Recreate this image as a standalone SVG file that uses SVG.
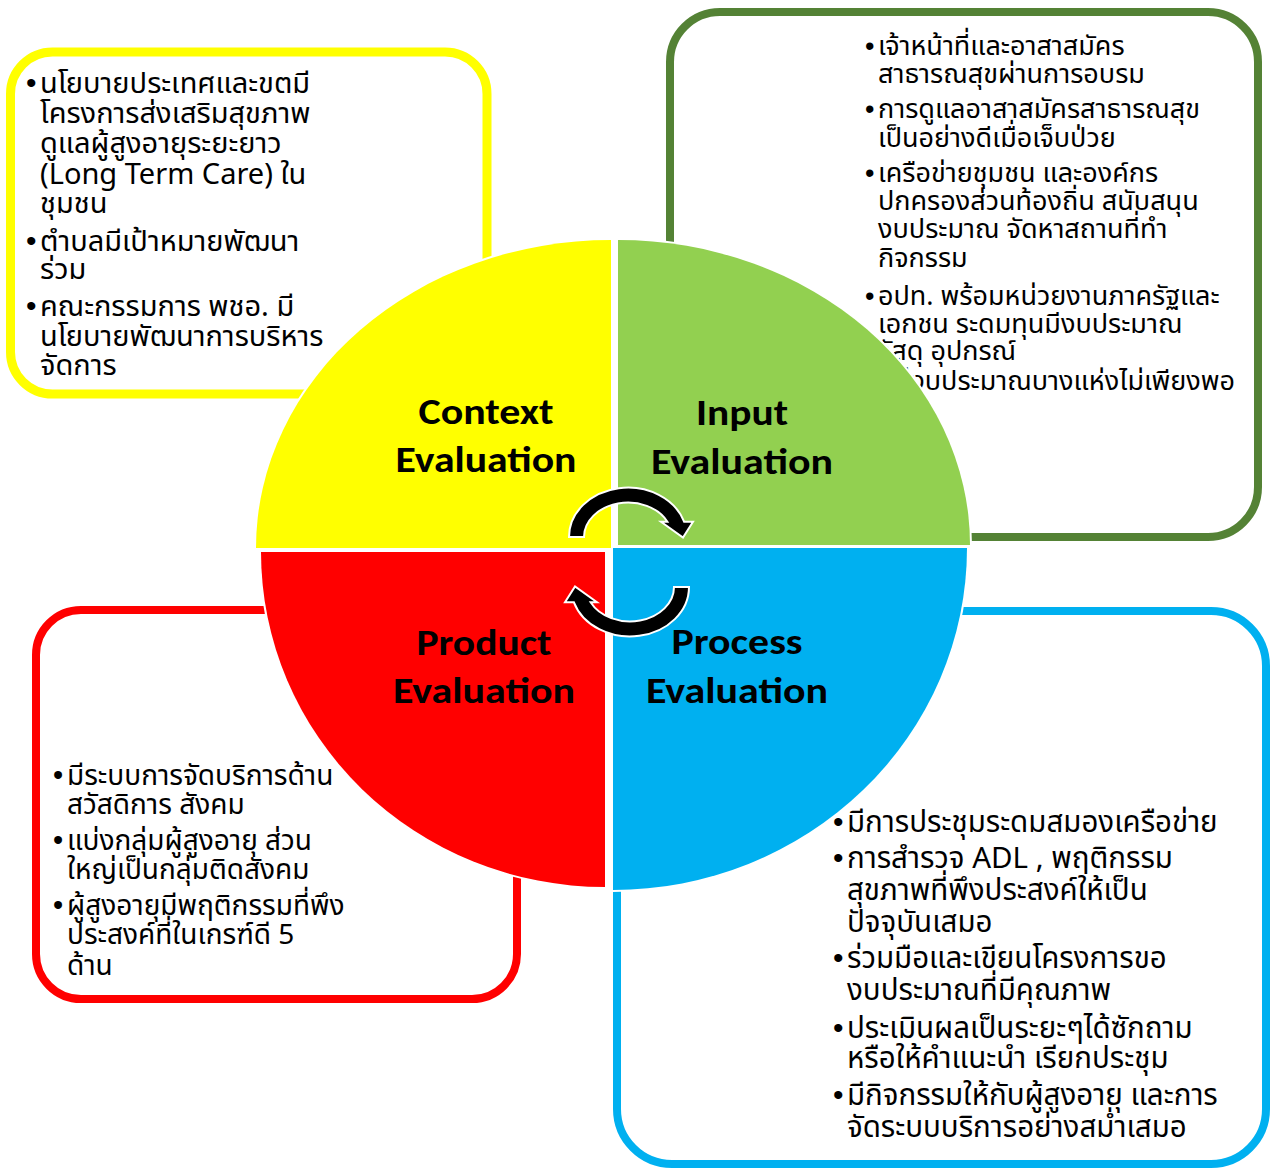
<svg xmlns="http://www.w3.org/2000/svg" width="1271" height="1169" viewBox="0 0 1271 1169">
  <defs>
    <style>
      .box { fill: #FFFFFF; }
      .t { font-family: Tahoma, "Noto Sans Thai", "Noto Sans", "DejaVu Sans", sans-serif; fill: #000000; }
      .ty { font-size: 29px; }
      .tg { font-size: 27px; }
      .tr { font-size: 28px; }
      .tb { font-size: 29.5px; }
      .bul { font-family: "Liberation Sans", Arial, sans-serif; fill: #000000; }
      .quad { stroke: #FFFFFF; stroke-width: 4; paint-order: stroke; }
      .title { font-family: Carlito, Calibri, Lato, "Open Sans", sans-serif; font-weight: bold; font-size: 36px; fill: #000000; text-anchor: middle; }
      .arrow { fill: #000000; stroke: #FFFFFF; stroke-width: 2; stroke-linejoin: miter; }
    </style>
    <!-- curved arrow, centred on its ellipse; tail on the left, head on the right -->
    <path id="curvedArrow" d="M -59 0 A 59 49.5 0 0 1 56.1 -15.3 L 65 -15.3 L 55 0.5 L 33 -15.3 L 39.4 -15.3 A 44 34.5 0 0 0 -44 0 Z"/>
  </defs>

  <rect width="1271" height="1169" fill="#FFFFFF"/>

  <!-- Context box -->
  <g id="context-notes">
    <rect class="box" x="10.5" y="52" width="476.5" height="342" rx="42" stroke="#FFFF00" stroke-width="9"/>
    <g class="t ty">
      <text x="40" y="93">นโยบายประเทศและขตมี</text>
      <text x="40" y="123">โครงการส่งเสริมสุขภาพ</text>
      <text x="40" y="153">ดูแลผู้สูงอายุระยะยาว</text>
      <text x="40" y="184">(Long Term Care) ใน</text>
      <text x="40" y="213">ชุมชน</text>
      <text x="40" y="251">ตำบลมีเป้าหมายพัฒนา</text>
      <text x="40" y="279">ร่วม</text>
      <text x="40" y="316">คณะกรรมการ พชอ. มี</text>
      <text x="40" y="346">นโยบายพัฒนาการบริหาร</text>
      <text x="40" y="375">จัดการ</text>
    </g>
    <g class="bul" font-size="30">
      <text x="26" y="93">•</text>
      <text x="26" y="251">•</text>
      <text x="26" y="316">•</text>
    </g>
  </g>

  <!-- Input box -->
  <g id="input-notes">
    <rect class="box" x="670" y="12" width="588" height="525" rx="50" stroke="#548235" stroke-width="8"/>
    <g class="t tg">
      <text x="878" y="55">เจ้าหน้าที่และอาสาสมัคร</text>
      <text x="878" y="83">สาธารณสุขผ่านการอบรม</text>
      <text x="878" y="118">การดูแลอาสาสมัครสาธารณสุข</text>
      <text x="878" y="147">เป็นอย่างดีเมื่อเจ็บป่วย</text>
      <text x="878" y="182">เครือข่ายชุมชน และองค์กร</text>
      <text x="878" y="210">ปกครองส่วนท้องถิ่น สนับสนุน</text>
      <text x="878" y="238">งบประมาณ จัดหาสถานที่ทำ</text>
      <text x="878" y="267">กิจกรรม</text>
      <text x="878" y="305">อปท. พร้อมหน่วยงานภาครัฐและ</text>
      <text x="878" y="333">เอกชน  ระดมทุนมีงบประมาณ</text>
      <text x="878" y="360">วัสดุ อุปกรณ์</text>
      <text x="878" y="390">แต่งบประมาณบางแห่งไม่เพียงพอ</text>
    </g>
    <g class="bul" font-size="27">
      <text x="865" y="55">•</text>
      <text x="865" y="118">•</text>
      <text x="865" y="182">•</text>
      <text x="865" y="305">•</text>
    </g>
  </g>

  <!-- Product box -->
  <g id="product-notes">
    <rect class="box" x="36" y="610" width="481" height="389" rx="45" stroke="#FF0000" stroke-width="8"/>
    <g class="t tr">
      <text x="67" y="785">มีระบบการจัดบริการด้าน</text>
      <text x="67" y="814">สวัสดิการ สังคม</text>
      <text x="67" y="850">แบ่งกลุ่มผู้สูงอายุ ส่วน</text>
      <text x="67" y="879">ใหญ่เป็นกลุ่มติดสังคม</text>
      <text x="67" y="915">ผู้สูงอายุมีพฤติกรรมที่พึง</text>
      <text x="67" y="944">ประสงค์ที่ในเกรฑ์ดี 5</text>
      <text x="67" y="975">ด้าน</text>
    </g>
    <g class="bul" font-size="29">
      <text x="53" y="785">•</text>
      <text x="53" y="850">•</text>
      <text x="53" y="915">•</text>
    </g>
  </g>

  <!-- Process box -->
  <g id="process-notes">
    <rect class="box" x="617" y="611" width="649" height="553" rx="55" stroke="#00B0F0" stroke-width="8"/>
    <g class="t tb">
      <text x="847" y="832">มีการประชุมระดมสมองเครือข่าย</text>
      <text x="847" y="868">การสำรวจ ADL , พฤติกรรม</text>
      <text x="847" y="900">สุขภาพที่พึงประสงค์ให้เป็น</text>
      <text x="847" y="932">ปัจจุบันเสมอ</text>
      <text x="847" y="968">ร่วมมือและเขียนโครงการขอ</text>
      <text x="847" y="1000">งบประมาณที่มีคุณภาพ</text>
      <text x="847" y="1038">ประเมินผลเป็นระยะๆได้ซักถาม</text>
      <text x="847" y="1068">หรือให้คำแนะนำ เรียกประชุม</text>
      <text x="847" y="1105">มีกิจกรรมให้กับผู้สูงอายุ และการ</text>
      <text x="847" y="1137">จัดระบบบริการอย่างสม่ำเสมอ</text>
    </g>
    <g class="bul" font-size="30">
      <text x="833" y="832">•</text>
      <text x="833" y="868">•</text>
      <text x="833" y="968">•</text>
      <text x="833" y="1038">•</text>
      <text x="833" y="1105">•</text>
    </g>
  </g>

  <!-- Four evaluation quadrants -->
  <g id="context">
    <path class="quad" fill="#FFFF00" d="M611 548 L256 548 A355 308 0 0 1 611 240 Z"/>
    <text class="title" x="486" y="424" textLength="135" lengthAdjust="spacingAndGlyphs">Context</text>
    <text class="title" x="486" y="472" textLength="181" lengthAdjust="spacingAndGlyphs">Evaluation</text>
  </g>
  <g id="input">
    <path class="quad" fill="#92D050" d="M618 545 L618 240 A352 305 0 0 1 970 545 Z"/>
    <text class="title" x="742" y="425" textLength="92" lengthAdjust="spacingAndGlyphs">Input</text>
    <text class="title" x="742" y="474" textLength="182" lengthAdjust="spacingAndGlyphs">Evaluation</text>
  </g>
  <g id="process">
    <path class="quad" fill="#00B0F0" d="M613 548 L967 548 A354 342 0 0 1 613 890 Z"/>
    <text class="title" x="737" y="654" textLength="131" lengthAdjust="spacingAndGlyphs">Process</text>
    <text class="title" x="737" y="703" textLength="182" lengthAdjust="spacingAndGlyphs">Evaluation</text>
  </g>
  <g id="product">
    <path class="quad" fill="#FF0000" d="M605 552 L605 887 A344 335 0 0 1 261 552 Z"/>
    <text class="title" x="484" y="655" textLength="135" lengthAdjust="spacingAndGlyphs">Product</text>
    <text class="title" x="484" y="703" textLength="182" lengthAdjust="spacingAndGlyphs">Evaluation</text>
  </g>

  <!-- Cycle arrows -->
  <g id="connectors">
    <use href="#curvedArrow" class="arrow" transform="translate(628 537)"/>
    <use href="#curvedArrow" class="arrow" transform="translate(630 587) rotate(180)"/>
  </g>
</svg>
